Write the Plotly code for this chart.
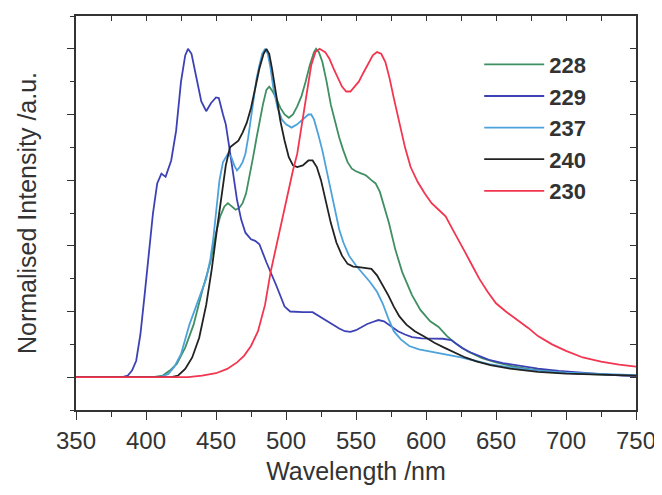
import plotly.graph_objects as go

# ---- data (wavelength nm, normalised intensity) ----
wl_228 = [350, 405, 412, 417, 422, 428, 434, 440, 446, 450, 453, 456, 458.5, 461, 464, 466.5,
          469, 471.5, 474, 476.5, 479, 481, 483.5, 486, 488, 490.5, 493, 496, 499, 502, 505,
          508, 511, 514, 517, 520, 521.5, 523.5, 526, 529, 532, 535, 538, 541, 544, 547, 550,
          554, 557, 561, 564, 567, 570, 573.5, 578, 583, 590, 596, 603, 609, 615, 622, 630,
          640, 650, 662, 675, 690, 705, 725, 750]
int_228 = [0, 0, 0.005, 0.02, 0.04, 0.09, 0.16, 0.26, 0.35, 0.44, 0.49, 0.52, 0.53, 0.52, 0.51, 0.515,
           0.53, 0.56, 0.61, 0.67, 0.73, 0.78, 0.83, 0.875, 0.885, 0.87, 0.85, 0.82, 0.80, 0.79, 0.80,
           0.825, 0.855, 0.90, 0.95, 0.99, 1.0, 0.99, 0.96, 0.90, 0.83, 0.78, 0.73, 0.69, 0.655, 0.635, 0.627,
           0.62, 0.615, 0.60, 0.59, 0.565, 0.52, 0.47, 0.39, 0.32, 0.25, 0.205, 0.17, 0.153, 0.125, 0.10, 0.078,
           0.058, 0.045, 0.033, 0.024, 0.017, 0.012, 0.008, 0.005]

wl_229 = [350, 383, 387, 390, 393, 396, 399, 402, 405, 408, 411, 414, 418, 421.5, 425, 428, 430,
          432.5, 436, 439.5, 443, 446.5, 450, 452, 455, 457, 459.5, 462, 465, 468, 471, 475, 478,
          481, 486, 493, 499, 503, 508, 512, 519, 524, 528, 533, 538, 542, 546, 550, 554, 558,
          562, 566, 570, 575, 580, 585, 590, 597, 605, 612, 618, 622, 626, 632, 638, 645, 655,
          668, 680, 695, 710, 725, 740, 750]
int_229 = [0, 0, 0.005, 0.02, 0.05, 0.13, 0.25, 0.37, 0.50, 0.59, 0.62, 0.61, 0.66, 0.75, 0.90, 0.98, 1.0,
           0.985, 0.91, 0.84, 0.81, 0.835, 0.852, 0.85, 0.80, 0.77, 0.70, 0.63, 0.54, 0.48, 0.44, 0.42, 0.415,
           0.405, 0.35, 0.28, 0.215, 0.20, 0.198, 0.198, 0.198, 0.185, 0.173, 0.16, 0.148, 0.14, 0.138, 0.143, 0.152, 0.162,
           0.168, 0.174, 0.17, 0.155, 0.14, 0.13, 0.122, 0.118, 0.118, 0.117, 0.113, 0.10, 0.088, 0.075, 0.064, 0.053, 0.043,
           0.033, 0.026, 0.019, 0.013, 0.009, 0.005, 0.004]

wl_237 = [350, 410, 416, 420, 425, 431, 437, 443, 446, 448, 450, 452.5, 455, 458.5, 461, 463, 465,
          467, 469, 471, 473, 475, 477, 479, 481, 483, 485, 487, 489, 491, 494, 497, 500, 504,
          508, 512, 516, 518, 520, 523, 526, 529, 532, 535, 538, 541, 545, 550, 555, 560, 565,
          569, 573, 577, 582, 588, 595, 605, 615, 625, 635, 645, 660, 680, 700, 725, 750]
int_237 = [0, 0, 0.01, 0.03, 0.07, 0.16, 0.23, 0.30, 0.36, 0.42, 0.50, 0.60, 0.655, 0.68, 0.67, 0.645, 0.63,
           0.64, 0.655, 0.68, 0.73, 0.79, 0.85, 0.91, 0.95, 0.985, 1.0, 0.985, 0.94, 0.88, 0.82, 0.785, 0.77, 0.76,
           0.77, 0.785, 0.80, 0.80, 0.785, 0.74, 0.69, 0.63, 0.57, 0.51, 0.45, 0.41, 0.37, 0.34, 0.315, 0.29, 0.26,
           0.225, 0.18, 0.14, 0.115, 0.095, 0.085, 0.077, 0.068, 0.06, 0.05, 0.04, 0.03, 0.02, 0.014, 0.009, 0.006]

wl_240 = [350, 418, 423, 428, 433, 438, 443, 447, 451, 454, 457, 460, 463, 466, 469, 472, 475, 478,
          481, 484, 486, 488, 490, 493, 496, 499, 502, 505, 508, 512, 516, 519, 522, 525, 528, 532,
          536, 540, 544, 548, 552, 557, 561, 565, 569, 573, 577, 581, 586, 592, 599, 606, 613, 620,
          628, 636, 646, 660, 680, 700, 725, 750]
int_240 = [0, 0, 0.005, 0.025, 0.06, 0.12, 0.22, 0.33, 0.46, 0.56, 0.645, 0.70, 0.71, 0.72, 0.745, 0.775, 0.82, 0.88,
           0.94, 0.985, 1.0, 0.985, 0.94, 0.86, 0.78, 0.72, 0.67, 0.645, 0.64, 0.645, 0.66, 0.66, 0.64, 0.60, 0.54, 0.47,
           0.41, 0.37, 0.345, 0.337, 0.335, 0.333, 0.33, 0.31, 0.28, 0.25, 0.215, 0.185, 0.16, 0.14, 0.123, 0.105, 0.09, 0.075,
           0.06, 0.048, 0.037, 0.026, 0.016, 0.011, 0.007, 0.005]

wl_230 = [350, 430, 440, 450, 458, 465, 470, 475, 480, 485, 489, 493, 497, 501, 505, 508, 512, 515,
          518, 521, 524, 528, 531, 534, 537, 540, 543, 546, 549, 552, 555, 559, 562, 565, 568, 571,
          574, 577, 581, 585, 589, 594, 599, 604, 609, 614, 619, 623, 628, 633, 638, 644, 650, 657,
          665, 673, 680, 690, 700, 712, 725, 738, 750]
int_230 = [0, 0, 0.005, 0.012, 0.025, 0.045, 0.065, 0.095, 0.14, 0.22, 0.32, 0.40, 0.48, 0.56, 0.63, 0.68, 0.79, 0.88,
           0.95, 0.99, 1.0, 0.99, 0.97, 0.94, 0.91, 0.885, 0.87, 0.87, 0.885, 0.90, 0.925, 0.955, 0.98, 0.99, 0.985, 0.96,
           0.91, 0.85, 0.77, 0.70, 0.64, 0.595, 0.56, 0.53, 0.51, 0.49, 0.45, 0.42, 0.38, 0.34, 0.30, 0.26, 0.225, 0.20,
           0.175, 0.15, 0.125, 0.10, 0.08, 0.06, 0.047, 0.038, 0.032]

series_names = ["228", "229", "237", "240", "230"]
series_wl = [wl_228, wl_229, wl_237, wl_240, wl_230]
series_int = [int_228, int_229, int_237, int_240, int_230]
series_colors = ["#3f8f62", "#3c42b4", "#4da2dc", "#222222", "#f23650"]

x_range = [350, 750]
y_range = [-0.1, 1.1]

fig = go.Figure()
for name, xs, ys, col in zip(series_names, series_wl, series_int, series_colors):
    fig.add_trace(go.Scatter(x=xs, y=ys, mode="lines", name=name,
                             line=dict(color=col, width=1.8)))

# transparent copies on twin axes so the top and right axes get inward ticks
fig.add_trace(go.Scatter(x=wl_230, y=int_230, xaxis="x2", yaxis="y", mode="lines",
                         line=dict(color="rgba(0,0,0,0)", width=1), showlegend=False,
                         hoverinfo="skip"))
fig.add_trace(go.Scatter(x=wl_230, y=int_230, xaxis="x", yaxis="y2", mode="lines",
                         line=dict(color="rgba(0,0,0,0)", width=1), showlegend=False,
                         hoverinfo="skip"))

axis_col = "#333333"
font_fam = "Liberation Sans, Arial, sans-serif"

# the page body adds an 8px offset; the figure size compensates so nothing overflows
fig.update_layout(
    width=654, height=479,
    margin=dict(l=68, r=24, t=6, b=73),
    paper_bgcolor="white", plot_bgcolor="white",
    font=dict(family=font_fam, color=axis_col),
    showlegend=True,
    legend=dict(x=0.72, y=0.93, xanchor="left", yanchor="top",
                bgcolor="rgba(0,0,0,0)", itemwidth=60,
                font=dict(size=22, weight="bold", color="#333333", family=font_fam),
                tracegroupgap=0),
    xaxis=dict(range=x_range, dtick=50, tick0=350, ticks="outside", ticklen=8, tickwidth=1.3,
               tickcolor=axis_col, showline=True, mirror=True, linecolor=axis_col, linewidth=1.5,
               showgrid=False, zeroline=False,
               minor=dict(dtick=25, ticklen=5, tickcolor=axis_col, ticks="outside", showgrid=False),
               tickfont=dict(size=24, color=axis_col),
               title=dict(text="Wavelength /nm", font=dict(size=25, color=axis_col), standoff=10)),
    yaxis=dict(range=y_range, dtick=0.2, tick0=0, ticks="outside", ticklen=7, tickwidth=1.3,
               tickcolor=axis_col, showline=True, mirror=True, linecolor=axis_col, linewidth=1.5,
               showgrid=False, zeroline=False, showticklabels=False,
               minor=dict(dtick=0.1, ticklen=4, tickcolor=axis_col, ticks="outside", showgrid=False),
               title=dict(text="Normalised Intensity /a.u.", font=dict(size=25, color=axis_col), standoff=24)),
    xaxis2=dict(range=x_range, overlaying="x", side="top", anchor="y", dtick=25, tick0=350,
                ticks="inside", ticklen=5, tickwidth=1.3, tickcolor=axis_col, showline=False,
                showgrid=False, zeroline=False, showticklabels=False),
    yaxis2=dict(range=y_range, overlaying="y", side="right", anchor="x", dtick=0.1, tick0=0,
                ticks="inside", ticklen=6, tickwidth=1.3, tickcolor=axis_col, showline=False,
                showgrid=False, zeroline=False, showticklabels=False),
)

fig.write_html("out.html", config={"displayModeBar": False})
